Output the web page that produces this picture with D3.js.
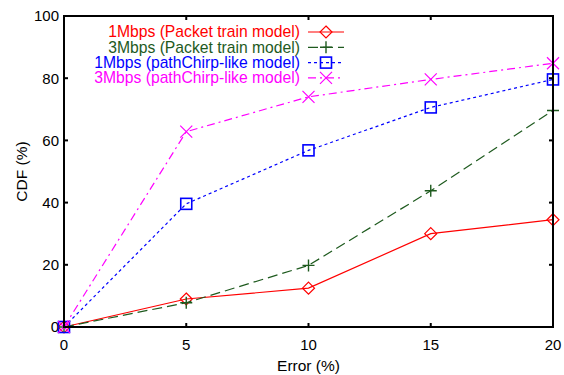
<!DOCTYPE html>
<html lang="en">
<head>
  <meta charset="UTF-8" />
  <title>CDF of Error</title>
  <script src="https://d3js.org/d3.v7.min.js"></script>
  <style>
    body { margin: 0; background: #fff; font-family: "Liberation Sans", Arial, sans-serif; }
    svg { display: block; }
  </style>
</head>
<body>
<svg width="564" height="375"></svg>
<script>
// data
const errors = [0, 5, 10, 15, 20];
const train1 = [0, 9, 12.5, 30, 34.5];
const train3 = [0, 7.8, 19.8, 43.8, 69.6];
const chirp1 = [0, 39.6, 56.8, 70.6, 79.6];
const chirp3 = [0, 62.8, 74, 79.6, 84.8];
const xTicks = [0, 5, 10, 15, 20];
const yTicks = [0, 20, 40, 60, 80, 100];

const seriesNames = [
  "1Mbps (Packet train model)",
  "3Mbps (Packet train model)",
  "1Mbps (pathChirp-like model)",
  "3Mbps (pathChirp-like model)"
];
const seriesValues = [train1, train3, chirp1, chirp3];
const colors = ["#ff0000", "#1e5a1e", "#0000ff", "#ff00ff"];
const dashes = [null, "10,5", "3,3", "8,4,2,4"];
const markers = ["diamond", "plus", "square", "cross"];

const svg = d3.select("svg");
const margin = { top: 16, right: 11, bottom: 48, left: 64 };
const width = 564 - margin.left - margin.right,
      height = 375 - margin.top - margin.bottom;

const g = svg.append("g").attr("transform", `translate(${margin.left},${margin.top})`);

const x = d3.scaleLinear().domain([0, 20]).range([0, width]);
const y = d3.scaleLinear().domain([0, 100]).range([height, 0]);

// ticks, inward on all four sides
const tickLen = 4;
xTicks.forEach(t => {
  g.append("line").attr("x1", x(t)).attr("x2", x(t)).attr("y1", height).attr("y2", height - tickLen)
    .attr("stroke", "#000").attr("stroke-width", 2);
  g.append("line").attr("x1", x(t)).attr("x2", x(t)).attr("y1", 0).attr("y2", tickLen)
    .attr("stroke", "#000").attr("stroke-width", 2);
  g.append("text").attr("x", x(t)).attr("y", height + 23)
    .attr("text-anchor", "middle").style("font-size", "15px").attr("fill", "#000").text(t);
});
yTicks.forEach(t => {
  g.append("line").attr("x1", 0).attr("x2", tickLen).attr("y1", y(t)).attr("y2", y(t))
    .attr("stroke", "#000").attr("stroke-width", 2);
  g.append("line").attr("x1", width).attr("x2", width - tickLen).attr("y1", y(t)).attr("y2", y(t))
    .attr("stroke", "#000").attr("stroke-width", 2);
  g.append("text").attr("x", -5).attr("y", y(t)).attr("dy", "0.36em")
    .attr("text-anchor", "end").style("font-size", "15px").attr("fill", "#000").text(t);
});

g.append("text")
  .attr("x", width / 2).attr("y", height + 44)
  .attr("text-anchor", "middle").style("font-size", "15.5px").text("Error (%)");

g.append("text")
  .attr("transform", `translate(${-37},${height / 2}) rotate(-90)`)
  .attr("text-anchor", "middle").style("font-size", "15.5px").text("CDF (%)");

function drawMarker(sel, type, cx, cy, color) {
  const s = 6;
  if (type === "diamond") {
    sel.append("path").attr("d", `M${cx},${cy - s}L${cx + s},${cy}L${cx},${cy + s}L${cx - s},${cy}Z`)
      .attr("fill", "none").attr("stroke", color).attr("stroke-width", 1.2);
  } else if (type === "plus") {
    sel.append("path").attr("d", `M${cx - s},${cy}H${cx + s}M${cx},${cy - s}V${cy + s}`)
      .attr("fill", "none").attr("stroke", color).attr("stroke-width", 1.4);
  } else if (type === "square") {
    sel.append("rect").attr("x", cx - 5.5).attr("y", cy - 5.5).attr("width", 11).attr("height", 11)
      .attr("fill", "none").attr("stroke", color).attr("stroke-width", 1.6);
  } else {
    sel.append("path").attr("d", `M${cx - s},${cy - s}L${cx + s},${cy + s}M${cx - s},${cy + s}L${cx + s},${cy - s}`)
      .attr("fill", "none").attr("stroke", color).attr("stroke-width", 1.2);
  }
}

const line = d3.line().x((d, i) => x(errors[i])).y(d => y(d));

seriesValues.forEach((vals, k) => {
  g.append("path").datum(vals)
    .attr("d", line)
    .attr("fill", "none")
    .attr("stroke", colors[k])
    .attr("stroke-width", 1.2)
    .attr("stroke-dasharray", dashes[k]);
  vals.forEach((v, i) => drawMarker(g, markers[k], x(errors[i]), y(v), colors[k]));
});

// legend
const legend = g.append("g");
seriesNames.forEach((name, k) => {
  const ly = 16 + k * 15.3;
  legend.append("text").attr("x", 236).attr("y", ly).attr("dy", "0.35em")
    .attr("text-anchor", "end").attr("fill", colors[k]).style("font-size", "15.7px").text(name);
  legend.append("line").attr("x1", 244).attr("x2", 280).attr("y1", ly).attr("y2", ly)
    .attr("stroke", colors[k]).attr("stroke-width", 1.2).attr("stroke-dasharray", dashes[k]);
  drawMarker(legend, markers[k], 262, ly, colors[k]);
});

// frame
g.append("rect").attr("x", 0).attr("y", 0).attr("width", width).attr("height", height)
  .attr("fill", "none").attr("stroke", "#000").attr("stroke-width", 2);
</script>
</body>
</html>
